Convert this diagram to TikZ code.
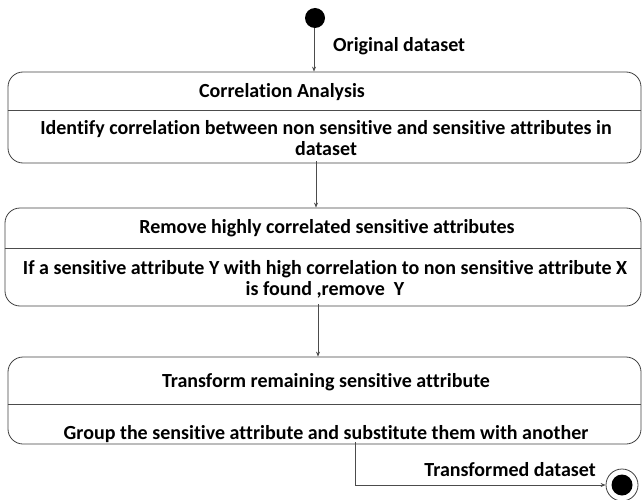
\documentclass[tikz,border=0pt]{standalone}
\usepackage{fontspec}
\setmainfont[Ligatures={NoCommon}]{Carlito}
\usetikzlibrary{arrows.meta}
\begin{document}
\begin{tikzpicture}[x=1pt,y=-1pt,
  txt/.style={font=\bfseries\fontsize{20}{21}\selectfont, text=black, inner sep=0pt, align=center},
  box/.style={draw=black!75, line width=0.8pt, rounded corners=15pt, inner sep=0pt},
  divider/.style={draw=black!70, line width=0.8pt},
  arr/.style={draw=black!70, line width=0.7pt, -{Stealth[length=5pt,width=4pt]}}]
\useasboundingbox (0,0) rectangle (642,500);
% start
\node[circle, fill=black, minimum size=20pt, inner sep=0pt] (s) at (315,18) {};
\node[txt, anchor=west] (l1) at (333,46) {Original dataset};
% box 1
\node[box, minimum width=633pt, minimum height=91pt] (b1) at (324.5,117.5) {};
\draw[divider] (b1.west |- 0,110) -- (b1.east |- 0,110);
\node[txt] (t1) at (282,92) {Correlation Analysis};
\node[txt] (d1) at (326,138) {Identify correlation between non sensitive and sensitive attributes in\\dataset};
% box 2
\node[box, minimum width=636pt, minimum height=98pt] (b2) at (323,257) {};
\draw[divider] (b2.west |- 0,248) -- (b2.east |- 0,248);
\node[txt] (t2) at (327,228) {Remove highly correlated sensitive attributes};
\node[txt] (d2) at (325,279) {If a sensitive attribute Y with high correlation to non sensitive attribute X\\is found ,remove\ \ Y};
% box 3
\node[box, minimum width=633pt, minimum height=87pt] (b3) at (324.5,400.5) {};
\draw[divider] (b3.west |- 0,404) -- (b3.east |- 0,404);
\node[txt] (t3) at (326,382) {Transform remaining sensitive attribute};
\node[txt] (d3) at (326,434) {Group the sensitive attribute and substitute them with another};
% end
\node[circle, draw=black!75, line width=0.8pt, minimum size=32pt, inner sep=0pt] (e) at (622,485) {};
\node[circle, fill=black, minimum size=21pt, inner sep=0pt] (ei) at (e.center) {};
\node[txt, anchor=east] (l2) at (596,470) {Transformed dataset};
% connectors
\coordinate (x1) at (314,0);
\coordinate (x2) at (316,0);
\coordinate (x3) at (318,0);
\coordinate (x4) at (355,0);
\draw[arr] (s.south -| x1) -- (b1.north -| x1);
\draw[arr] ([yshift=2pt]b1.south -| x2) -- (b2.north -| x2);
\draw[arr] ([yshift=2pt]b2.south -| x3) -- (b3.north -| x3);
\draw[arr] ([yshift=2pt]b3.south -| x4) |- (e.west);
\end{tikzpicture}
\end{document}
